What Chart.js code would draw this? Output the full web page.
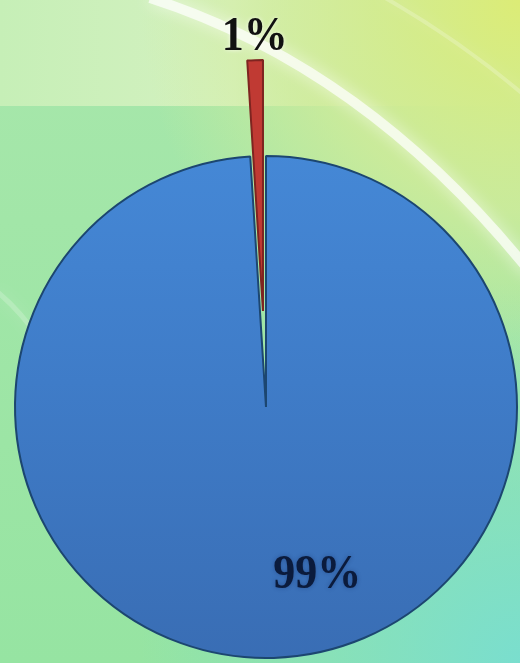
<!DOCTYPE html>
<html>
<head>
<meta charset="utf-8">
<script src="https://cdn.jsdelivr.net/npm/chart.js@4/dist/chart.umd.min.js"></script>
<style>
  html, body { margin: 0; padding: 0; background: #a4e6a8; }
  #wrap { width: 520px; height: 663px; position: relative; }
</style>
</head>
<body>
<div id="wrap"><canvas id="pie"></canvas></div>
<script>
// data
const labels = ['Part A', 'Part B']
const values = [1, 99]

// page backdrop (green / yellow wash with a light streak)
const backdrop = {
  id: 'backdrop',
  beforeDraw(chart) {
    const { ctx, width, height } = chart
    ctx.save()
    let g = ctx.createLinearGradient(0, 0, 0, height)
    g.addColorStop(0, '#a8e7ab')
    g.addColorStop(1, '#96e4a2')
    ctx.fillStyle = g
    ctx.fillRect(0, 0, width, height)

    let teal = ctx.createRadialGradient(width, height, 0, width, height, 380)
    teal.addColorStop(0, 'rgba(122,222,206,1)')
    teal.addColorStop(1, 'rgba(122,222,206,0)')
    ctx.fillStyle = teal
    ctx.fillRect(0, 0, width, height)

    let band = ctx.createLinearGradient(0, 0, width, 0)
    band.addColorStop(0, 'rgba(198,239,183,1)')
    band.addColorStop(0.45, 'rgba(212,241,192,1)')
    band.addColorStop(0.75, 'rgba(210,238,170,0.4)')
    band.addColorStop(1, 'rgba(210,238,170,0)')
    ctx.fillStyle = band
    ctx.fillRect(0, 0, width, 106)

    let glow = ctx.createRadialGradient(width, 0, 0, width, 0, 380)
    glow.addColorStop(0, 'rgba(220,236,118,1)')
    glow.addColorStop(0.55, 'rgba(214,236,150,0.75)')
    glow.addColorStop(1, 'rgba(214,236,150,0)')
    ctx.fillStyle = glow
    ctx.fillRect(0, 0, width, height)

    ctx.strokeStyle = 'rgba(255,255,255,0.7)'
    ctx.shadowColor = 'rgba(255,255,255,0.9)'
    ctx.shadowBlur = 16
    ctx.lineWidth = 10
    ctx.beginPath()
    ctx.moveTo(150, -2)
    ctx.quadraticCurveTo(365, 67, 530, 272)
    ctx.stroke()

    ctx.strokeStyle = 'rgba(255,255,255,0.22)'
    ctx.lineWidth = 4
    ctx.beginPath()
    ctx.moveTo(380, -5)
    ctx.quadraticCurveTo(460, 40, 530, 100)
    ctx.stroke()

    ctx.strokeStyle = 'rgba(255,255,255,0.2)'
    ctx.lineWidth = 5
    ctx.beginPath()
    ctx.moveTo(-5, 290)
    ctx.quadraticCurveTo(20, 310, 40, 340)
    ctx.stroke()
    ctx.restore()
  }
}

// pull chosen slices out along their middle angle without shrinking them
const explode = {
  id: 'explode',
  beforeDatasetDraw(chart, args, opts) {
    const meta = chart.getDatasetMeta(args.index)
    meta.data.forEach((arc, i) => {
      const dist = opts.distance[i] || 0
      if (!dist || arc._pulled) return
      const base = arc.draw
      arc.draw = function (ctx, area) {
        const mid = (this.startAngle + this.endAngle) / 2
        ctx.save()
        ctx.translate(Math.cos(mid) * dist, Math.sin(mid) * dist)
        base.call(this, ctx, area)
        ctx.restore()
      }
      arc._pulled = true
    })
  }
}

// percentage labels placed from each arc's geometry
const pctLabels = {
  id: 'pctLabels',
  afterDatasetsDraw(chart, args, opts) {
    const { ctx } = chart
    const meta = chart.getDatasetMeta(0)
    const total = values.reduce((a, b) => a + b, 0)
    const pulled = chart.options.plugins.explode.distance
    meta.data.forEach((arc, i) => {
      const p = arc.getProps(['x', 'y', 'startAngle', 'endAngle', 'outerRadius'], true)
      const place = opts.place[i]
      const ang = (p.startAngle + p.endAngle) / 2 + place.turn * Math.PI / 180
      const r = p.outerRadius * place.radius + (pulled[i] || 0)
      const x = p.x + Math.cos(ang) * r
      const y = p.y + Math.sin(ang) * r
      ctx.save()
      ctx.translate(x, y)
      ctx.scale(1, 1.12)
      ctx.font = 'bold 44px "Liberation Serif", "DejaVu Serif", serif'
      ctx.textAlign = 'center'
      ctx.textBaseline = 'alphabetic'
      ctx.shadowColor = place.glow
      ctx.shadowBlur = 4
      ctx.fillStyle = place.color
      ctx.fillText(Math.round(values[i] / total * 100) + '%', 0, 0)
      ctx.restore()
    })
  }
}

function sliceFill(context) {
  if (context.dataIndex === 0) return '#c03a33'
  const area = context.chart.chartArea
  if (!area) return '#3f7cc8'
  const g = context.chart.ctx.createLinearGradient(0, area.top, 0, area.bottom)
  g.addColorStop(0, '#4588d6')
  g.addColorStop(0.45, '#3f7cc8')
  g.addColorStop(1, '#396db4')
  return g
}

new Chart(document.getElementById('pie'), {
  type: 'pie',
  data: {
    labels: labels,
    datasets: [{
      data: values,
      backgroundColor: sliceFill,
      borderColor: [ '#7e2420', '#1c4670' ],
      borderWidth: 2,
      hoverOffset: 0
    }]
  },
  options: {
    responsive: true,
    maintainAspectRatio: false,
    animation: false,
    rotation: -3.6,
    radius: 251,
    layout: { padding: { left: 12, right: 0, top: 151, bottom: 0 } },
    plugins: {
      legend: { display: false },
      tooltip: { enabled: false },
      explode: { distance: [96, 0] },
      pctLabels: {
        place: [
          { radius: 1.04, turn: 0, color: '#111111', glow: 'rgba(255,255,255,0.7)' },
          { radius: 0.75, turn: -14, color: '#0b1b3c', glow: 'rgba(20,40,90,0.4)' }
        ]
      }
    },
    events: []
  },
  plugins: [backdrop, explode, pctLabels]
})
</script>
</body>
</html>
